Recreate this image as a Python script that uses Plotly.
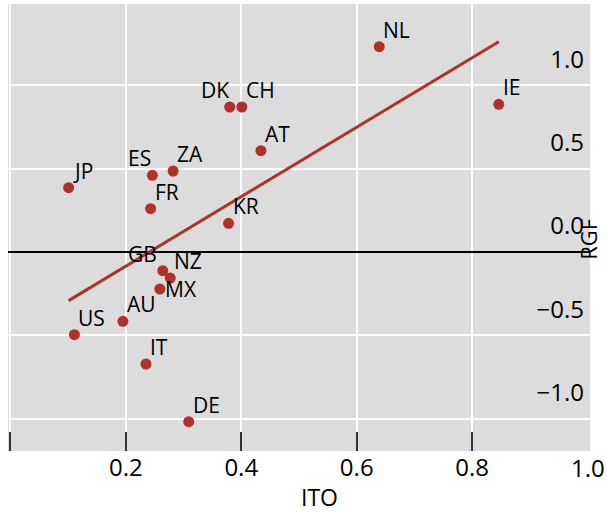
import numpy as np
import plotly.graph_objects as go

countries = ["NL", "IE", "DK", "CH", "AT", "ZA", "ES", "JP", "FR", "KR",
             "GB", "NZ", "MX", "AU", "US", "IT", "DE"]
ito = [0.639, 0.846, 0.380, 0.401, 0.434, 0.282, 0.246, 0.101, 0.243, 0.378,
       0.264, 0.277, 0.259, 0.195, 0.111, 0.235, 0.309]
rgf = [1.232, 0.886, 0.870, 0.870, 0.608, 0.486, 0.460, 0.386, 0.260, 0.172,
       -0.112, -0.156, -0.222, -0.416, -0.496, -0.672, -1.018]
label_side = ["left", "left", "right", "left", "left", "left", "right", "left", "left", "left",
              "right", "left", "left", "left", "left", "left", "left"]
x_ticks = [0, 0.2, 0.4, 0.6, 0.8]
x_ticktext = ["", "0.2", "0.4", "0.6", "0.8"]
x_edge_tick = 1.0
x_edge_text = "1.0"
y_ticks = [-1.0, -0.5, 0.0, 0.5, 1.0]
y_ticktext = ["\u22121.0", "\u22120.5", "0.0", "0.5", "1.0"]

RED = "#b0302c"
FONT = "Open Sans"
Y_RANGE = [-1.194, 1.488]

slope, intercept = np.polyfit(ito, rgf, 1)
fit_x = [min(ito), max(ito)]
fit_y = [slope * v + intercept for v in fit_x]

fig = go.Figure()
fig.add_trace(go.Scatter(x=fit_x, y=fit_y, mode="lines",
                         line=dict(color=RED, width=3), hoverinfo="skip"))
fig.add_trace(go.Scatter(x=ito, y=rgf, mode="markers",
                         marker=dict(color=RED, size=11), text=countries))

for c, xv, yv, side in zip(countries, ito, rgf, label_side):
    if c == "MX":
        ys, xs, xa = 0, 3, "left"
    elif side == "right":
        ys, xs, xa = 17, (-4 if c == "GB" else 1), "right"
    else:
        ys, xs, xa = 17, 2, "left"
    fig.add_annotation(x=xv, y=yv, xref="x", yref="y", text=c, showarrow=False,
                       xanchor=xa, yanchor="middle", xshift=xs, yshift=ys,
                       font=dict(family=FONT, size=21, color="black"))

# tick label at the right end of the x axis
fig.add_annotation(x=x_edge_tick, y=-0.037, xref="x", yref="paper", text=x_edge_text,
                   showarrow=False, xanchor="center", yanchor="middle",
                   font=dict(family=FONT, size=24, color="black"))

fig.add_annotation(x=0.535, y=-0.104, xref="paper", yref="paper", text="ITO",
                   showarrow=False, xanchor="center", yanchor="middle",
                   font=dict(family=FONT, size=23, color="black"))
fig.add_annotation(x=0.996, y=0.474, xref="paper", yref="paper", text="RGF",
                   showarrow=False, xanchor="center", yanchor="middle", textangle=-90,
                   font=dict(family=FONT, size=22, color="black"))

fig.update_layout(
    width=607, height=512,
    margin=dict(l=8, r=17, t=4, b=61),
    paper_bgcolor="white", plot_bgcolor="#dcdcdc",
    showlegend=False,
    font=dict(family=FONT, size=24, color="black"),
)
fig.update_xaxes(range=[-0.004, 1.004], tickvals=x_ticks, ticktext=x_ticktext,
                 showgrid=True, gridcolor="white", gridwidth=2,
                 ticks="inside", ticklen=19, tickwidth=2, tickcolor="#333333",
                 zeroline=False, showline=False, automargin=False,
                 tickfont=dict(size=24, color="black"))
fig.update_yaxes(range=Y_RANGE, tickvals=y_ticks, ticktext=y_ticktext,
                 side="right", ticklabelposition="inside", ticklabelshift=-26,
                 ticklabelstandoff=3, automargin=False,
                 showgrid=True, gridcolor="white", gridwidth=2,
                 ticks="", zeroline=True, zerolinecolor="black", zerolinewidth=1.5,
                 showline=False, tickfont=dict(size=24, color="black"))

fig.write_html("out.html", config={"displayModeBar": False},
               post_script="document.body.style.margin='0px';")
